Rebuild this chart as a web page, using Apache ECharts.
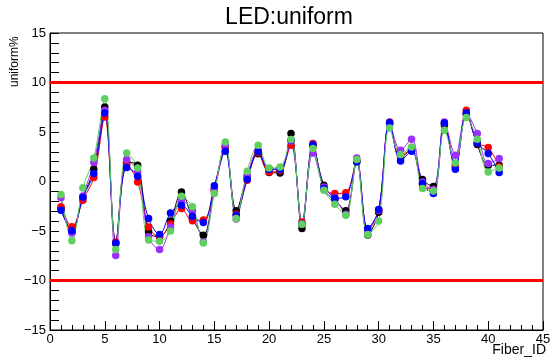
<!DOCTYPE html>
<html>
<head>
<meta charset="utf-8">
<title>LED:uniform</title>
<script src="https://cdn.jsdelivr.net/npm/echarts@6/dist/echarts.min.js"></script>
<style>
  html, body { margin: 0; padding: 0; background: #fff; }
  #chart { width: 555px; height: 361px; }
</style>
</head>
<body>
<div id="chart"></div>
<script>
// fiber ids 1..41
const fiberIds = [1, 2, 3, 4, 5, 6, 7, 8, 9, 10, 11, 12, 13, 14, 15, 16, 17, 18, 19, 20,
  21, 22, 23, 24, 25, 26, 27, 28, 29, 30, 31, 32, 33, 34, 35, 36, 37, 38, 39, 40, 41];

// uniform% for each run
const blackVals = [-2.7, -5.1, -1.6, 1.24, 7.53, -6.26, 1.95, 1.64, -5.08, -5.6, -4.0, -1.05, -3.7, -5.42, -0.75, 3.5, -2.96, 0.53, 2.8, 0.9,
  0.87, 4.84, -4.74, 3.6, -0.37, -1.8, -2.96, 2.0, -5.4, -3.1, 5.85, 2.4, 3.2, 0.2, -0.5, 5.7, 1.5, 6.8, 3.73, 1.64, 1.64];
const redVals = [-2.56, -4.58, -1.89, 0.4, 6.52, -6.1, 1.75, -0.04, -4.6, -5.6, -4.3, -2.73, -3.97, -3.9, -0.9, 3.5, -3.3, 0.13, 2.9, 0.97,
  1.1, 3.66, -4.1, 3.83, -0.7, -1.21, -1.14, 2.1, -5.0, -2.9, 6.01, 2.6, 3.2, -0.35, -0.8, 5.9, 1.7, 7.19, 3.9, 3.43, 1.5];
const purpleVals = [-1.65, -5.2, -1.48, 1.91, 7.2, -7.47, 2.22, 1.0, -5.59, -6.86, -4.6, -1.89, -2.96, -6.1, -0.9, 3.7, -3.8, 0.6, 3.16, 1.3,
  1.3, 4.1, -4.3, 2.89, -0.55, -1.65, -3.3, 2.38, -4.9, -2.9, 5.85, 3.16, 4.27, -0.04, -0.8, 6.01, 2.65, 6.85, 4.84, 1.81, 2.32];
const blueVals = [-2.9, -4.97, -1.6, 0.8, 6.92, -6.2, 1.41, 0.53, -3.74, -5.35, -3.17, -2.39, -3.5, -4.14, -0.44, 3.06, -3.4, 0.2, 3.0, 1.21,
  1.2, 4.2, -4.3, 3.7, -0.7, -1.7, -1.55, 2.0, -4.74, -2.83, 5.95, 2.08, 3.06, -0.2, -1.21, 5.9, 1.24, 6.92, 3.9, 2.82, 0.91];
const greenVals = [-1.31, -5.99, -0.64, 2.38, 8.37, -6.86, 2.89, 1.37, -5.92, -6.03, -5.0, -1.48, -2.56, -6.2, -1.21, 4.0, -3.74, 1.04, 3.66, 1.37,
  1.47, 4.24, -4.31, 3.33, -0.88, -2.29, -3.4, 2.22, -5.35, -4.0, 5.41, 2.72, 3.49, -0.71, -0.95, 5.18, 1.88, 6.46, 4.27, 0.97, 1.37];

// red limit lines
const limits = [10, -10];

const font = 'Liberation Sans';

function pairs(vals) {
  return fiberIds.map((id, i) => [id, vals[i]]);
}

function run(vals, color) {
  return {
    type: 'line',
    data: pairs(vals),
    smooth: 0.35,
    symbol: 'circle',
    symbolSize: 7.5,
    lineStyle: { color: color, width: 1 },
    itemStyle: { color: color },
    silent: true
  };
}

const series = [
  run(blackVals, '#000000'),
  run(redVals, '#ff0000'),
  run(purpleVals, '#9b30ff'),
  run(blueVals, '#0000ff'),
  run(greenVals, '#5fcf5f')
];

// limit lines
series.push({
  type: 'line',
  data: [],
  markLine: {
    silent: true,
    symbol: 'none',
    label: { show: false },
    lineStyle: { color: '#ff0000', width: 3, type: 'solid' },
    data: limits.map(v => ({ yAxis: v }))
  }
});

const chart = echarts.init(document.getElementById('chart'));
chart.setOption({
  animation: false,
  grid: {
    left: 50, right: 12, top: 33, bottom: 31,
    show: true, borderColor: '#000', borderWidth: 1
  },
  xAxis: {
    type: 'value', min: 0, max: 45, interval: 5,
    axisLine: { onZero: false, lineStyle: { color: '#000' } },
    axisTick: { inside: true, length: 9, lineStyle: { color: '#000' } },
    minorTick: { show: true, splitNumber: 5, length: 5, lineStyle: { color: '#000' } },
    splitLine: { show: false },
    axisLabel: { color: '#000', fontFamily: font, fontSize: 13, margin: 3 }
  },
  yAxis: {
    type: 'value', min: -15, max: 15, interval: 5,
    axisLine: { show: true, onZero: false, lineStyle: { color: '#000' } },
    axisTick: { show: true, inside: true, length: 9, lineStyle: { color: '#000' } },
    minorTick: { show: true, splitNumber: 5, length: 9, lineStyle: { color: '#000' } },
    splitLine: { show: false },
    axisLabel: {
      color: '#000', fontFamily: font, fontSize: 13, margin: 4,
      formatter: v => String(v).replace('-', '\u2212')
    }
  },
  graphic: [
    {
      type: 'text', x: 289, y: 29,
      style: { text: 'LED:uniform', font: '23px "Liberation Sans"', fill: '#000', textAlign: 'center', textVerticalAlign: 'bottom' }
    },
    {
      type: 'text', x: 9, y: 87, rotation: Math.PI / 2,
      style: { text: 'uniform%', font: '12px "Liberation Sans"', fill: '#000', textAlign: 'left', textVerticalAlign: 'top' }
    },
    {
      type: 'text', x: 546, y: 357,
      style: { text: 'Fiber_ID', font: '14px "Liberation Sans"', fill: '#000', textAlign: 'right', textVerticalAlign: 'bottom' }
    }
  ],
  series: series
});
</script>
</body>
</html>
